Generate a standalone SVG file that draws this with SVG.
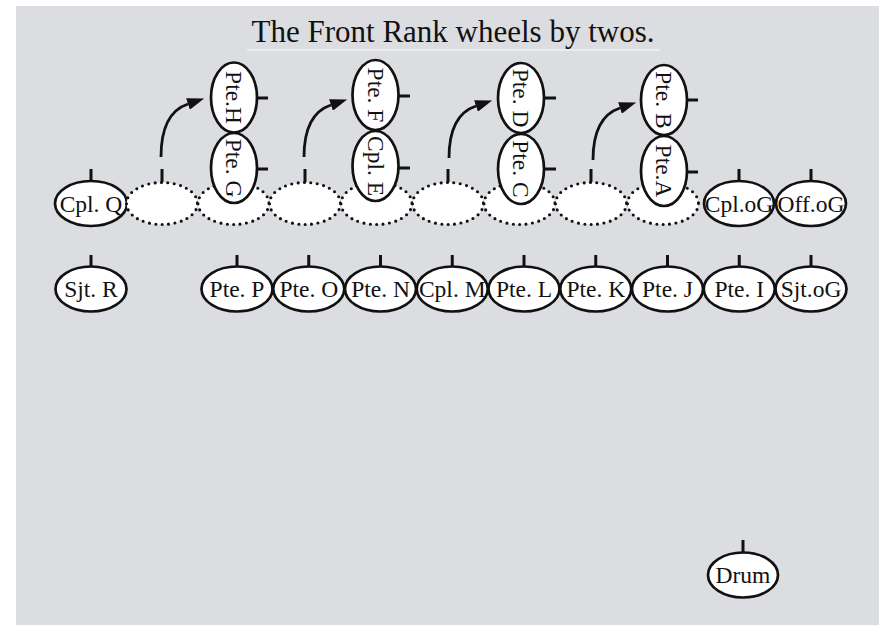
<svg xmlns="http://www.w3.org/2000/svg" width="879" height="625" viewBox="0 0 879 625">
<style>
.bg{fill:#dcdde0}
.s{fill:#fff;stroke:#111;stroke-width:2.7}
.d{fill:#fff;stroke:#111;stroke-width:3.1;stroke-dasharray:0 6.4;stroke-linecap:round}
.tk{stroke:#111;stroke-width:3}
.t{font-family:"Liberation Serif","Times New Roman",serif;font-size:23.5px;fill:#111;text-anchor:middle}
.ti{font-family:"Liberation Serif","Times New Roman",serif;font-size:31px;fill:#111;text-anchor:middle}
.ar{fill:none;stroke:#111;stroke-width:2.8}
</style>
<defs>
<marker id="ah" markerUnits="userSpaceOnUse" markerWidth="18" markerHeight="12" refX="0" refY="6" orient="auto">
<path d="M0,0 L17,6 L0,12 z" fill="#111"/>
</marker>
</defs>
<rect class="bg" x="16" y="6" width="863" height="619"/>
<g id="title">
<text class="ti" x="453" y="42">The Front Rank wheels by twos.</text>
<line x1="247" y1="50" x2="660" y2="50" stroke="#f2f2f2" stroke-width="1.5"/>
</g>
<!-- front row -->
<g id="cplQ"><line class="tk" x1="91" y1="169" x2="91" y2="181"/><ellipse class="s" cx="91" cy="203.5" rx="36" ry="22.5"/><text class="t" x="91" y="211.5">Cpl. Q</text></g>
<g id="empty1"><line class="tk" x1="162" y1="169" x2="162" y2="182"/><ellipse class="d" cx="162" cy="203.5" rx="35.5" ry="21"/></g>
<g id="empty2"><ellipse class="d" cx="233.5" cy="203.5" rx="35.5" ry="21"/></g>
<g id="empty3"><line class="tk" x1="305" y1="169" x2="305" y2="182"/><ellipse class="d" cx="305" cy="203.5" rx="35.5" ry="21"/></g>
<g id="empty4"><ellipse class="d" cx="376.5" cy="203.5" rx="35.5" ry="21"/></g>
<g id="empty5"><line class="tk" x1="448" y1="169" x2="448" y2="182"/><ellipse class="d" cx="448" cy="203.5" rx="35.5" ry="21"/></g>
<g id="empty6"><ellipse class="d" cx="519.5" cy="203.5" rx="35.5" ry="21"/></g>
<g id="empty7"><line class="tk" x1="591" y1="169" x2="591" y2="182"/><ellipse class="d" cx="591" cy="203.5" rx="35.5" ry="21"/></g>
<g id="empty8"><ellipse class="d" cx="663" cy="203.5" rx="35.5" ry="21"/></g>
<g id="cplOG"><line class="tk" x1="739" y1="169" x2="739" y2="181"/><ellipse class="s" cx="739" cy="203.5" rx="35" ry="22.5"/><text class="t" x="739" y="211.5">Cpl.oG</text></g>
<g id="offOG"><line class="tk" x1="811" y1="169" x2="811" y2="181"/><ellipse class="s" cx="811" cy="203.5" rx="35" ry="22.5"/><text class="t" x="811" y="211.5">Off.oG</text></g>
<!-- wheeled pairs -->
<g id="pteH"><line class="tk" x1="257" y1="98" x2="268" y2="98"/><ellipse class="s" cx="234" cy="97.5" rx="23" ry="35"/><text class="t" transform="translate(234 97.5) rotate(90)" y="8">Pte.H</text></g>
<g id="pteG"><line class="tk" x1="257" y1="169" x2="268" y2="169"/><ellipse class="s" cx="234" cy="168" rx="23" ry="35"/><text class="t" transform="translate(234 168) rotate(90)" y="8">Pte. G</text></g>
<g id="pteF"><line class="tk" x1="398" y1="96" x2="410" y2="96"/><ellipse class="s" cx="375.5" cy="95" rx="23" ry="35"/><text class="t" transform="translate(375.5 95) rotate(90)" y="8">Pte. F</text></g>
<g id="cplE"><line class="tk" x1="398" y1="168" x2="410" y2="168"/><ellipse class="s" cx="375.5" cy="166" rx="23" ry="35"/><text class="t" transform="translate(375.5 166) rotate(90)" y="8">Cpl. E</text></g>
<g id="pteD"><line class="tk" x1="544" y1="98" x2="556" y2="98"/><ellipse class="s" cx="521" cy="98" rx="23" ry="35"/><text class="t" transform="translate(521 98) rotate(90)" y="8">Pte. D</text></g>
<g id="pteC"><line class="tk" x1="544" y1="169" x2="556" y2="169"/><ellipse class="s" cx="521" cy="169" rx="23" ry="35"/><text class="t" transform="translate(521 169) rotate(90)" y="8">Pte. C</text></g>
<g id="pteB"><line class="tk" x1="687" y1="100" x2="698" y2="100"/><ellipse class="s" cx="664" cy="100" rx="23" ry="35"/><text class="t" transform="translate(664 100) rotate(90)" y="8">Pte. B</text></g>
<g id="pteA"><line class="tk" x1="687" y1="172" x2="698" y2="172"/><ellipse class="s" cx="664" cy="171" rx="23" ry="35"/><text class="t" transform="translate(664 171) rotate(90)" y="8">Pte.A</text></g>
<!-- rear row -->
<g id="sjtR"><line class="tk" x1="91" y1="255" x2="91" y2="267"/><ellipse class="s" cx="91" cy="289" rx="35.5" ry="22.5"/><text class="t" x="91" y="297">Sjt. R</text></g>
<g id="pteP"><line class="tk" x1="237" y1="255" x2="237" y2="267"/><ellipse class="s" cx="237" cy="289" rx="35.5" ry="22.5"/><text class="t" x="237" y="297">Pte. P</text></g>
<g id="pteO"><line class="tk" x1="308.75" y1="255" x2="308.75" y2="267"/><ellipse class="s" cx="308.75" cy="289" rx="35.5" ry="22.5"/><text class="t" x="308.75" y="297">Pte. O</text></g>
<g id="pteN"><line class="tk" x1="380.5" y1="255" x2="380.5" y2="267"/><ellipse class="s" cx="380.5" cy="289" rx="35.5" ry="22.5"/><text class="t" x="380.5" y="297">Pte. N</text></g>
<g id="cplM"><line class="tk" x1="452.25" y1="255" x2="452.25" y2="267"/><ellipse class="s" cx="452.25" cy="289" rx="35.5" ry="22.5"/><text class="t" x="452.25" y="297">Cpl. M</text></g>
<g id="pteL"><line class="tk" x1="524" y1="255" x2="524" y2="267"/><ellipse class="s" cx="524" cy="289" rx="35.5" ry="22.5"/><text class="t" x="524" y="297">Pte. L</text></g>
<g id="pteK"><line class="tk" x1="595.75" y1="255" x2="595.75" y2="267"/><ellipse class="s" cx="595.75" cy="289" rx="35.5" ry="22.5"/><text class="t" x="595.75" y="297">Pte. K</text></g>
<g id="pteJ"><line class="tk" x1="667.5" y1="255" x2="667.5" y2="267"/><ellipse class="s" cx="667.5" cy="289" rx="35.5" ry="22.5"/><text class="t" x="667.5" y="297">Pte. J</text></g>
<g id="pteI"><line class="tk" x1="739.25" y1="255" x2="739.25" y2="267"/><ellipse class="s" cx="739.25" cy="289" rx="35.5" ry="22.5"/><text class="t" x="739.25" y="297">Pte. I</text></g>
<g id="sjtOG"><line class="tk" x1="811" y1="255" x2="811" y2="267"/><ellipse class="s" cx="811" cy="289" rx="35.5" ry="22.5"/><text class="t" x="811" y="297">Sjt.oG</text></g>
<g id="drum"><line class="tk" x1="743" y1="540" x2="743" y2="552"/><ellipse class="s" cx="743" cy="575" rx="35" ry="22.5"/><text class="t" x="743" y="583">Drum</text></g>
<!-- connectors -->
<g id="connectors">
<path class="ar" marker-end="url(#ah)" d="M161,157 C161,128 170,110 188,104"/>
<path class="ar" marker-end="url(#ah)" d="M304,157 C304,128 313,111 331,105"/>
<path class="ar" marker-end="url(#ah)" d="M449,158 C449,130 458,112 476,106"/>
<path class="ar" marker-end="url(#ah)" d="M593,160 C593,132 602,114 620,108"/>
</g>
</svg>
